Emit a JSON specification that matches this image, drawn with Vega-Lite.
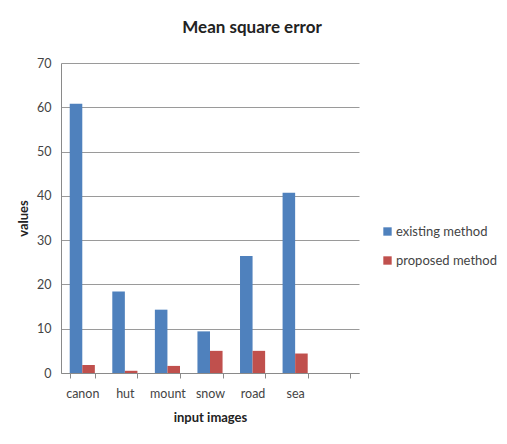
{
  "$schema": "https://vega.github.io/schema/vega-lite/v6.json",
  "width": 298,
  "height": 310,
  "autosize": "none",
  "padding": {"left": 61, "top": 63, "right": 148, "bottom": 71},
  "background": "white",
  "title": {
    "text": "Mean square error",
    "font": "Lato",
    "fontSize": 17,
    "fontWeight": "bold",
    "color": "#222222",
    "anchor": "middle",
    "dx": 42,
    "offset": 20
  },
  "data": {
    "values": [
      {"image": "canon", "method": "existing method", "value": 60.8},
      {"image": "canon", "method": "proposed method", "value": 1.8},
      {"image": "hut", "method": "existing method", "value": 18.4},
      {"image": "hut", "method": "proposed method", "value": 0.5},
      {"image": "mount", "method": "existing method", "value": 14.3},
      {"image": "mount", "method": "proposed method", "value": 1.6},
      {"image": "snow", "method": "existing method", "value": 9.4},
      {"image": "snow", "method": "proposed method", "value": 5.0},
      {"image": "road", "method": "existing method", "value": 26.4},
      {"image": "road", "method": "proposed method", "value": 5.0},
      {"image": "sea", "method": "existing method", "value": 40.7},
      {"image": "sea", "method": "proposed method", "value": 4.4}
    ]
  },
  "mark": {"type": "bar"},
  "encoding": {
    "x": {
      "field": "image",
      "type": "nominal",
      "scale": {
        "domain": ["canon", "hut", "mount", "snow", "road", "sea", " "],
        "paddingInner": 0.41,
        "paddingOuter": 0.205
      },
      "axis": {
        "title": "input images",
        "labelAngle": 0,
        "tickBand": "extent",
        "grid": false,
        "ticks": true,
        "tickSize": 5,
        "labelPadding": 9,
        "titlePadding": 12
      }
    },
    "xOffset": {
      "field": "method",
      "type": "nominal",
      "scale": {"paddingInner": 0, "paddingOuter": 0}
    },
    "y": {
      "field": "value",
      "type": "quantitative",
      "scale": {"domain": [0, 70], "nice": false},
      "axis": {
        "title": "values",
        "values": [0, 10, 20, 30, 40, 50, 60, 70],
        "grid": true,
        "ticks": false,
        "labelPadding": 10,
        "titlePadding": 6
      }
    },
    "color": {
      "field": "method",
      "type": "nominal",
      "scale": {
        "domain": ["existing method", "proposed method"],
        "range": ["#4F81BD", "#C0504D"]
      },
      "legend": {
        "title": null,
        "orient": "none",
        "legendX": 320,
        "legendY": 162,
        "symbolType": "square",
        "symbolSize": 70,
        "symbolStrokeWidth": 0,
        "labelFont": "Lato",
        "labelFontSize": 13,
        "labelColor": "#444444",
        "labelOffset": 2,
        "rowPadding": 15
      }
    }
  },
  "config": {
    "view": {"stroke": null},
    "axis": {
      "labelFont": "Lato",
      "labelFontSize": 12.5,
      "labelColor": "#444444",
      "titleFont": "Lato",
      "titleFontSize": 13,
      "titleFontWeight": "bold",
      "titleColor": "#222222",
      "domainColor": "#8a8a8a",
      "tickColor": "#8a8a8a",
      "gridColor": "#9a9a9a",
      "gridWidth": 1
    }
  }
}
